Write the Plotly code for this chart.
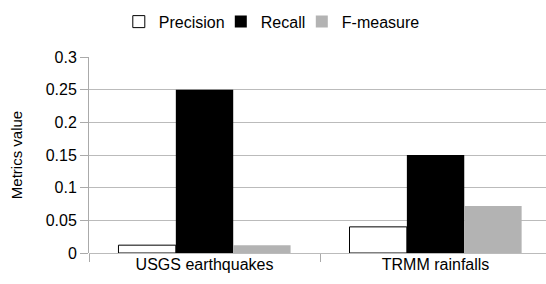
import plotly.graph_objects as go

categories = ["USGS earthquakes", "TRMM rainfalls"]
precision = [0.012, 0.040]
recall = [0.25, 0.15]
fmeasure = [0.012, 0.072]
y_ticks = [0, 0.05, 0.1, 0.15, 0.2, 0.25, 0.3]
y_tick_labels = ["0", "0.05", "0.1", "0.15", "0.2", "0.25", "0.3"]

font = "Liberation Sans, Arial, sans-serif"

fig = go.Figure()
fig.add_trace(go.Bar(name="Precision", x=categories, y=precision, legendwidth=57,
                     marker=dict(color="white", line=dict(color="black", width=1))))
fig.add_trace(go.Bar(name="Recall", x=categories, y=recall, legendwidth=36,
                     marker=dict(color="black", line=dict(width=0))))
fig.add_trace(go.Bar(name="F-measure", x=categories, y=fmeasure,
                     marker=dict(color="#b3b3b3", line=dict(width=0))))

fig.update_layout(
    width=546, height=284,
    margin=dict(l=89, r=0, t=57, b=31, autoexpand=False),
    paper_bgcolor="white", plot_bgcolor="white",
    barmode="group", bargap=0.255, bargroupgap=0,
    font=dict(family=font, size=16, color="black"),
    showlegend=True,
    legend=dict(orientation="h", x=0.40, xref="paper", xanchor="center",
                y=1.18, yanchor="middle", font=dict(size=16),
                itemwidth=30, tracegroupgap=0, traceorder="normal"),
    xaxis=dict(range=[-0.5, 1.478], tickson="boundaries", ticks="outside",
               ticklen=8, tickcolor="#aaaaaa", showline=False, showgrid=False,
               tickfont=dict(size=16), automargin=False),
    yaxis=dict(range=[0, 0.3], tickvals=y_ticks, ticktext=y_tick_labels,
               showgrid=True, gridcolor="#bbbbbb", gridwidth=1,
               zeroline=True, zerolinecolor="#bbbbbb", zerolinewidth=1,
               showline=True, linecolor="#aaaaaa", linewidth=1,
               ticks="outside", ticklen=8, tickcolor="#aaaaaa",
               tickfont=dict(size=16), automargin=False,
               title=dict(text="Metrics value", font=dict(size=15), standoff=19)),
)

fig.write_html("out.html", config={"displayModeBar": False},
               post_script="document.body.style.margin='0';document.body.style.overflow='hidden';")
